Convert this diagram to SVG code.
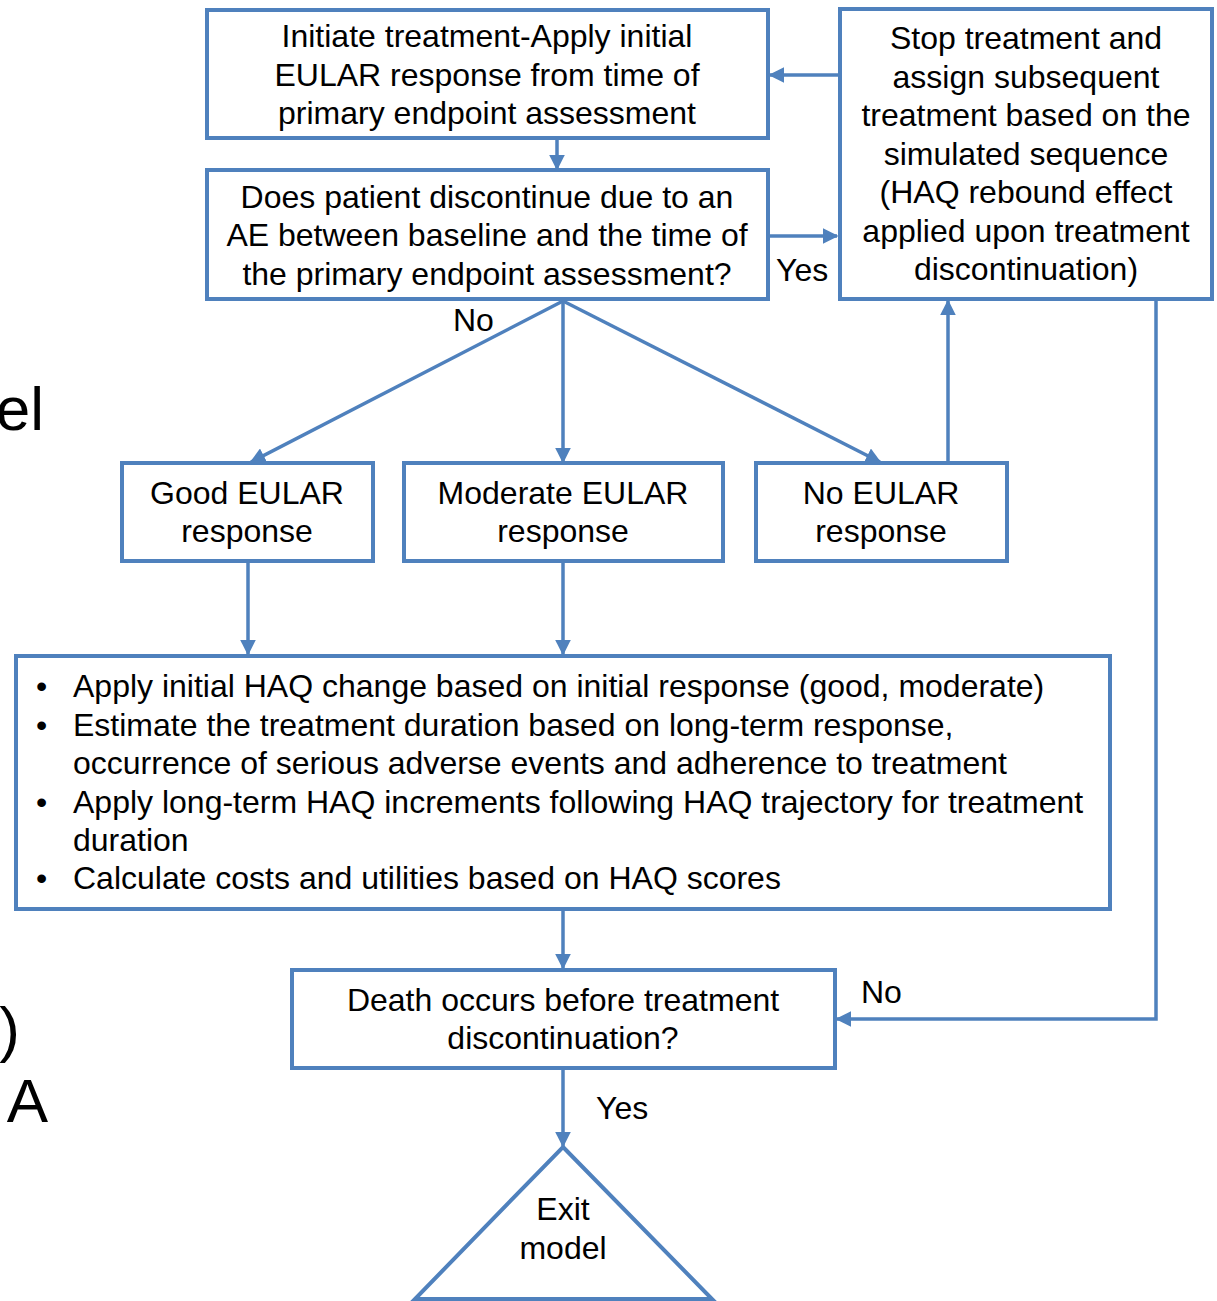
<svg xmlns="http://www.w3.org/2000/svg" width="1217" height="1301" viewBox="0 0 1217 1301">
<defs>
<marker id="ah" viewBox="0 0 10 10" refX="9" refY="5" markerWidth="4.5" markerHeight="4.5" markerUnits="strokeWidth" orient="auto">
<path d="M0,0 L10,5 L0,10 z" fill="#4F81BD"/>
</marker>
<style>
.box{fill:#fff;stroke:#4F81BD;stroke-width:4}
.ln{fill:none;stroke:#4F81BD;stroke-width:3.5;marker-end:url(#ah)}
text{font-family:"Liberation Sans",Arial,sans-serif;font-size:32px;fill:#000}
.c{text-anchor:middle}
.big{font-size:62px}
</style>
</defs>
<rect width="1217" height="1301" fill="#fff"/>
<text class="big" x="44" y="430" text-anchor="end">el</text>
<text class="big" x="20" y="1050" text-anchor="end">)</text>
<text class="big" x="48" y="1122" text-anchor="end">A</text>
<g id="connectors">
<line class="ln" x1="557" y1="140" x2="557" y2="169"/>
<line class="ln" x1="838" y1="75" x2="770" y2="75"/>
<line class="ln" x1="770" y1="236" x2="837" y2="236"/>
<line class="ln" x1="563" y1="301" x2="251" y2="462"/>
<line class="ln" x1="563" y1="301" x2="563" y2="462"/>
<line class="ln" x1="563" y1="301" x2="880" y2="462"/>
<line class="ln" x1="948" y1="461" x2="948" y2="301"/>
<line class="ln" x1="248" y1="563" x2="248" y2="654"/>
<line class="ln" x1="563" y1="563" x2="563" y2="654"/>
<line class="ln" x1="563" y1="911" x2="563" y2="968"/>
<polyline class="ln" points="1156,301 1156,1019 837,1019"/>
<line class="ln" x1="563" y1="1070" x2="563" y2="1146"/>
<text x="776" y="281">Yes</text>
<text x="453" y="331">No</text>
<text x="861" y="1003">No</text>
<text x="596" y="1119">Yes</text>
</g>
<g id="initiate">
<rect class="box" x="207" y="10" width="561" height="128"/>
<text class="c" x="487" y="47">Initiate treatment-Apply initial</text>
<text class="c" x="487" y="86">EULAR response from time of</text>
<text class="c" x="487" y="124">primary endpoint assessment</text>
</g>
<g id="stop">
<rect class="box" x="840" y="9" width="372" height="290"/>
<text class="c" x="1026" y="49">Stop treatment and</text>
<text class="c" x="1026" y="88">assign subsequent</text>
<text class="c" x="1026" y="126">treatment based on the</text>
<text class="c" x="1026" y="165">simulated sequence</text>
<text class="c" x="1026" y="203">(HAQ rebound effect</text>
<text class="c" x="1026" y="242">applied upon treatment</text>
<text class="c" x="1026" y="280">discontinuation)</text>
</g>
<g id="discontinue">
<rect class="box" x="207" y="170" width="561" height="129"/>
<text class="c" x="487" y="208">Does patient discontinue due to an</text>
<text class="c" x="487" y="246">AE between baseline and the time of</text>
<text class="c" x="487" y="285">the primary endpoint assessment?</text>
</g>
<g id="good">
<rect class="box" x="122" y="463" width="251" height="98"/>
<text class="c" x="247" y="504">Good EULAR</text>
<text class="c" x="247" y="542">response</text>
</g>
<g id="moderate">
<rect class="box" x="404" y="463" width="319" height="98"/>
<text class="c" x="563" y="504">Moderate EULAR</text>
<text class="c" x="563" y="542">response</text>
</g>
<g id="noeular">
<rect class="box" x="756" y="463" width="251" height="98"/>
<text class="c" x="881" y="504">No EULAR</text>
<text class="c" x="881" y="542">response</text>
</g>
<g id="haq">
<rect class="box" x="16" y="656" width="1094" height="253"/>
<text x="36" y="697">•</text>
<text x="73" y="697">Apply initial HAQ change based on initial response (good, moderate)</text>
<text x="36" y="736">•</text>
<text x="73" y="736">Estimate the treatment duration based on long-term response,</text>
<text x="73" y="774">occurrence of serious adverse events and adherence to treatment</text>
<text x="36" y="813">•</text>
<text x="73" y="813">Apply long-term HAQ increments following HAQ trajectory for treatment</text>
<text x="73" y="851">duration</text>
<text x="36" y="889">•</text>
<text x="73" y="889">Calculate costs and utilities based on HAQ scores</text>
</g>
<g id="death">
<rect class="box" x="292" y="970" width="543" height="98"/>
<text class="c" x="563" y="1011">Death occurs before treatment</text>
<text class="c" x="563" y="1049">discontinuation?</text>
</g>
<g id="exit">
<polygon points="563,1147 712,1299 415,1299" fill="#fff" stroke="#4F81BD" stroke-width="4"/>
<text class="c" x="563" y="1220">Exit</text>
<text class="c" x="563" y="1259">model</text>
</g>
</svg>
